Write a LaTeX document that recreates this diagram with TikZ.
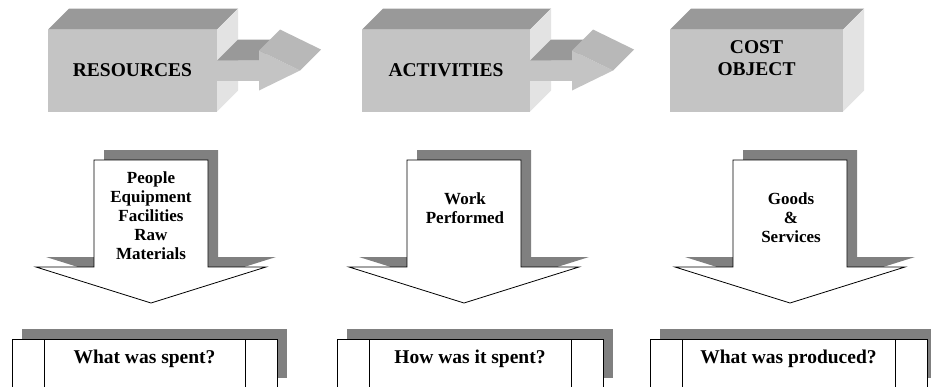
\documentclass[tikz,border=0pt]{standalone}
\usepackage{fontspec}
\setmainfont{Liberation Serif}
\usetikzlibrary{calc,shadows}
\definecolor{facefront}{HTML}{C4C4C4}
\definecolor{facetop}{HTML}{999999}
\definecolor{faceside}{HTML}{E3E3E3}
\definecolor{headtop}{HTML}{B8B8B8}
\definecolor{shadowgray}{HTML}{808080}
\tikzset{
  cube/.style={fill=facefront, inner sep=0pt, outer sep=0pt, minimum height=82pt,
    font=\fontsize{19.5}{22}\selectfont\bfseries, align=center},
  cubetext/.style={inner sep=0pt, anchor=north, align=center,
    font=\fontsize{19.5}{22}\selectfont\bfseries},
  flowtext/.style={inner sep=0pt, anchor=north, align=center,
    font=\fontsize{17}{19}\selectfont\bfseries},
  downarrow/.style={draw, fill=white, line width=0.8pt, line join=miter},
  question/.style={draw, fill=white, line width=0.8pt, inner sep=0pt, outer sep=0pt,
    minimum height=49pt,
    drop shadow={shadow xshift=10pt, shadow yshift=10pt, fill=shadowgray, opacity=1}},
  asktext/.style={inner sep=0pt, anchor=north,
    font=\fontsize{19.5}{22}\selectfont\bfseries},
}
\begin{document}
\begin{tikzpicture}[x=1pt, y=-1pt]
  \useasboundingbox (0,0) rectangle (931,386);

  % top row: boxes
  \node[cube, minimum width=169pt] (res) at (132.5,70.5) {RESOURCES};
  \node[cube, minimum width=168pt] (act) at (446,70.5) {ACTIVITIES};
  \node[cube, minimum width=173pt] (cost) at (756.5,70.5) {};
  \node[cubetext] (costtxt) at ($(cost.north)+(0,11)$) {COST\\OBJECT};
  \foreach \b in {res,act,cost} {
    \fill[facetop] (\b.north west) -- ++(21,-21) -- ($(\b.north east)+(21,-21)$)
      -- (\b.north east) -- cycle;
    \fill[faceside] (\b.north east) -- ++(21,-21) -- ($(\b.south east)+(21,-21)$)
      -- (\b.south east) -- cycle;
  }

  % block arrows between boxes
  \foreach \b in {res,act} {
    \fill[facetop] ($(\b.east)+(0,-10)$) -- ++(21,-21) -- ++(42,0) -- ++(-21,21) -- cycle;
    \fill[facefront] ($(\b.east)+(0,-10)$) rectangle ++(42,20);
    \fill[facefront] ($(\b.east)+(42,-20)$) -- ++(41,20) -- ++(-41,20) -- cycle;
    \fill[headtop] ($(\b.east)+(42,-20)$) -- ++(41,20) -- ++(21,-21) -- ++(-41,-20) -- cycle;
  }

  % down arrows
  \foreach \x in {151,464,790} {
    \fill[shadowgray, xshift=10pt, yshift=10pt]
      ({\x-57},160) -- ({\x+57},160) -- ({\x+57},267) -- ({\x+115},267)
      -- (\x,303) -- ({\x-115},267) -- ({\x-57},267) -- cycle;
    \draw[downarrow]
      ({\x-57},160) -- ({\x+57},160) -- ({\x+57},267) -- ({\x+115},267)
      -- (\x,303) -- ({\x-115},267) -- ({\x-57},267) -- cycle;
  }
  \node[flowtext] (inputs) at (151,171) {People\\Equipment\\Facilities\\Raw\\Materials};
  \node[flowtext] (work) at (465,192) {Work\\Performed};
  \node[flowtext] (goods) at (791,192) {Goods\\\&\\Services};

  % bottom row: questions
  \node[question, minimum width=265pt] (spent) at (144.5,363.5) {};
  \node[question, minimum width=266pt] (how) at (470,363.5) {};
  \node[question, minimum width=277pt] (produced) at (788.5,363.5) {};
  \foreach \q in {spent,how,produced} {
    \draw[line width=0.8pt] ($(\q.north west)+(32,0)$) -- ($(\q.south west)+(32,0)$)
      ($(\q.north east)+(-32,0)$) -- ($(\q.south east)+(-32,0)$);
  }
  \node[asktext] (spenttxt) at ($(spent.north)+(0,11)$) {What was spent?};
  \node[asktext] (howtxt) at ($(how.north)+(0,11)$) {How was it spent?};
  \node[asktext] (producedtxt) at ($(produced.north)+(0,11)$) {What was produced?};
\end{tikzpicture}
\end{document}
